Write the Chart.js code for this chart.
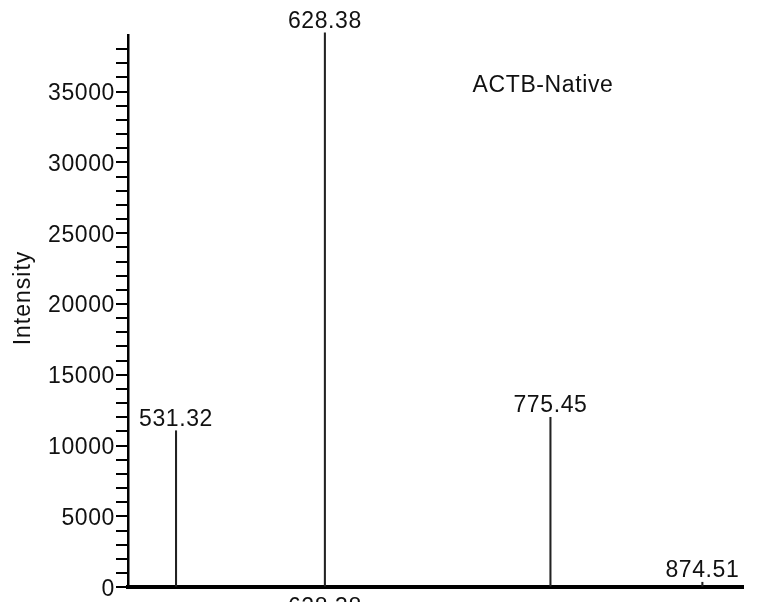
<!DOCTYPE html>
<html>
<head>
<meta charset="utf-8">
<script src="https://cdn.jsdelivr.net/npm/chart.js@4.4.0/dist/chart.umd.min.js"></script>
<style>
  html, body { margin: 0; padding: 0; background: #fff; }
</style>
</head>
<body>
<canvas id="myChart" width="759" height="602"></canvas>
<script>
// peaks (m/z and intensity)
var peakMz = [531.32, 628.38, 775.45, 874.51];
var peakIntensity = [11050, 39150, 12000, 350];
var peakLabels = ['531.32', '628.38', '775.45', '874.51'];

// axis
var yMin = 0;
var yMax = 39000;
var yStep = 1000;
var yLabelStep = 5000;
var xMin = 500;
var xMax = 901;

var sampleName = 'ACTB-Native';
var yTitle = 'Intensity';
var basePeakLabel = '628.38';

var fontFamily = '"Liberation Sans", Arial, sans-serif';

// text on top of the chart: peak labels, sample name, y title
var spectrumText = {
    id: 'spectrumText',
    beforeDraw: function (chart) {
        chart.ctx.letterSpacing = '0.6px';
    },
    afterDraw: function (chart) {
        var ctx = chart.ctx;
        var meta = chart.getDatasetMeta(0);
        ctx.save();
        ctx.letterSpacing = '0.6px';
        ctx.fillStyle = '#111';
        ctx.textAlign = 'center';
        ctx.textBaseline = 'alphabetic';
        ctx.font = '23px ' + fontFamily;

        meta.data.forEach(function (bar, i) {
            ctx.fillText(peakLabels[i], bar.x, bar.y - 5);
        });

        // base peak label under the axis (cut by the bottom edge)
        var baseIdx = peakLabels.indexOf(basePeakLabel);
        ctx.fillText(basePeakLabel, meta.data[baseIdx].x, 614);

        ctx.fillText(sampleName, 543, 92);

        // rotated y title
        ctx.letterSpacing = '1px';
        ctx.translate(30, 298);
        ctx.rotate(-Math.PI / 2);
        ctx.fillText(yTitle, 0, 0);
        ctx.restore();
    }
};

var ctx = document.getElementById('myChart').getContext('2d');
var chart = new Chart(ctx, {
    type: 'bar',
    data: {
        datasets: [{
            data: peakMz.map(function (mz, i) { return { x: mz, y: peakIntensity[i] }; }),
            backgroundColor: '#222',
            borderWidth: 0,
            barThickness: 1.4,
            clip: false
        }]
    },
    options: {
        responsive: false,
        animation: false,
        layout: { padding: { top: 35, right: 16, left: 0, bottom: 0 } },
        plugins: {
            legend: { display: false },
            tooltip: { enabled: false }
        },
        scales: {
            x: {
                type: 'linear',
                min: xMin,
                max: xMax,
                offset: false,
                ticks: { display: false },
                grid: { display: true, offset: false, drawOnChartArea: false, drawTicks: false },
                border: { display: true, color: '#000', width: 4 },
                afterFit: function (scale) { scale.height = 12; }
            },
            y: {
                min: yMin,
                max: yMax,
                ticks: {
                    stepSize: yStep,
                    autoSkip: false,
                    padding: 1,
                    labelOffset: 2,
                    color: '#111',
                    font: { family: fontFamily, size: 23 },
                    callback: function (v) {
                        return v % yLabelStep === 0 && v < yMax ? String(v) : '';
                    }
                },
                grid: {
                    drawOnChartArea: false,
                    drawTicks: true,
                    tickLength: 12,
                    lineWidth: 2,
                    tickColor: function (c) {
                        return c.tick && c.tick.value >= yMax ? 'rgba(0,0,0,0)' : '#000';
                    }
                },
                border: { display: true, color: '#000', width: 2.5 },
                afterFit: function (scale) { scale.width = 128; }
            }
        }
    },
    plugins: [spectrumText]
});
</script>
</body>
</html>
